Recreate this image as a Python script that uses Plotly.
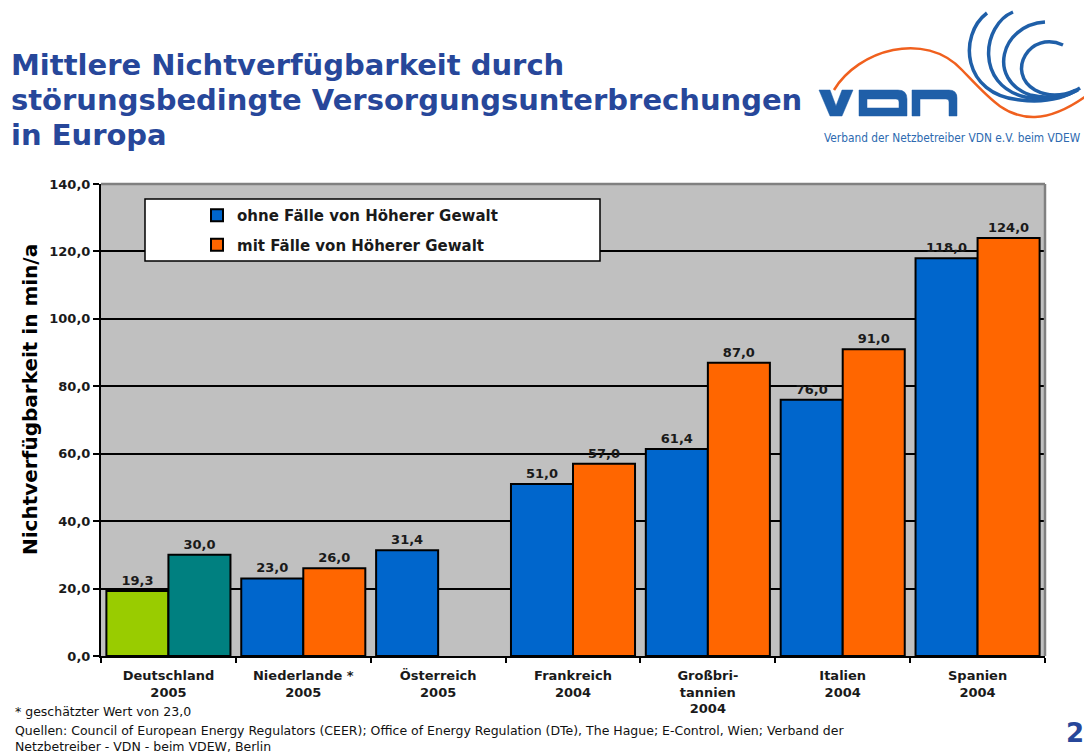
import plotly.graph_objects as go

# ---------------- data ----------------
categories = ["Deutschland<br>2005", "Niederlande *<br>2005", "Österreich<br>2005",
              "Frankreich<br>2004", "Großbri-<br>tannien<br>2004", "Italien<br>2004",
              "Spanien<br>2004"]
ohne_hg = [19.3, 23.0, 31.4, 51.0, 61.4, 76.0, 118.0]
mit_hg = [30.0, 26.0, None, 57.0, 87.0, 91.0, 124.0]
series_names = ["ohne Fälle von Höherer Gewalt", "mit Fälle von Höherer Gewalt"]
y_ticks = [0, 20, 40, 60, 80, 100, 120, 140]
special_category = "Deutschland<br>2005"   # drawn in its own colours

title_lines = ["Mittlere Nichtverfügbarkeit durch",
               "störungsbedingte Versorgungsunterbrechungen",
               "in Europa"]
y_title = "Nichtverfügbarkeit in min/a"
footnote = "* geschätzter Wert von 23,0"
sources = ("Quellen: Council of European Energy Regulators (CEER); Office of Energy Regulation (DTe), "
           "The Hague; E-Control, Wien; Verband der<br>Netzbetreiber - VDN - beim VDEW, Berlin")
logo_caption = "Verband der Netzbetreiber VDN e.V. beim VDEW"
page_no = "2"

# ---------------- styles ----------------
BLUE, ORANGE, GREEN, TEAL = "#0066CC", "#FF6600", "#99CC00", "#008080"
TITLE_BLUE = "#27479A"
LOGO_BLUE = "#1F5FA8"
LOGO_ORANGE = "#F0601E"
FONT = "DejaVu Sans"

W, H = 1084, 755
PL, PR, PT, PB = 101, 1045, 184, 656


def px(x):
    return (x - PL) / (PR - PL)


def py(y):
    return (PB - y) / (PB - PT)


def path(cmds):
    """cmds: list of (letter, [x1,y1,...]) in pixels, one segment each -> paper path"""
    out = []
    for c, pts in cmds:
        if c == "Z":
            out.append("Z")
            continue
        coords = [f"{px(pts[i]):.5f},{py(pts[i+1]):.5f}" for i in range(0, len(pts), 2)]
        out.append(c + " " + " ".join(coords))
    return " ".join(out)


def split(values, keep_special):
    return [v if ((c == special_category) == keep_special) else None
            for c, v in zip(categories, values)]


bar_line = dict(color="#000000", width=2)
txt_font = dict(family=FONT, size=13, color="#1a1a1a", weight="bold")

fig = go.Figure()
fig.add_trace(go.Bar(x=categories, y=split(ohne_hg, False), name=series_names[0],
                     marker=dict(color=BLUE, line=bar_line), offsetgroup="a",
                     texttemplate="%{y:.1f}", textposition="outside", textfont=txt_font,
                     cliponaxis=False, legendgroup="g1"))
fig.add_trace(go.Bar(x=categories, y=split(ohne_hg, True), showlegend=False,
                     marker=dict(color=GREEN, line=bar_line), offsetgroup="a",
                     texttemplate="%{y:.1f}", textposition="outside", textfont=txt_font,
                     cliponaxis=False))
fig.add_trace(go.Bar(x=categories, y=split(mit_hg, False), name=series_names[1],
                     marker=dict(color=ORANGE, line=bar_line), offsetgroup="b",
                     texttemplate="%{y:.1f}", textposition="outside", textfont=txt_font,
                     cliponaxis=False, legendgroup="g2"))
fig.add_trace(go.Bar(x=categories, y=split(mit_hg, True), showlegend=False,
                     marker=dict(color=TEAL, line=bar_line), offsetgroup="b",
                     texttemplate="%{y:.1f}", textposition="outside", textfont=txt_font,
                     cliponaxis=False))

shapes = [
    # legend box
    dict(type="rect", xref="paper", yref="paper", x0=px(145), x1=px(600), y0=py(199), y1=py(261),
         fillcolor="white", line=dict(color="#000000", width=1.5), layer="above"),
    # top/right frame in grey
    dict(type="line", xref="paper", yref="paper", x0=0, x1=1, y0=1, y1=1,
         line=dict(color="#808080", width=2.5), layer="above"),
    dict(type="line", xref="paper", yref="paper", x0=1, x1=1, y0=0, y1=1,
         line=dict(color="#808080", width=2.5), layer="above"),
]

# ----- logo -----
logo_paths = [
    # orange wave
    (path([("M", [834, 90]), ("C", [858, 50, 925, 30, 962, 70]),
           ("C", [988, 97, 1005, 118, 1035, 117]), ("C", [1055, 116, 1072, 106, 1086, 96])]),
     LOGO_ORANGE, 2.5, None),
    # blue arcs
    (path([("M", [987, 13]), ("C", [958, 35, 962, 95, 1020, 100]), ("C", [1045, 103, 1065, 98, 1080, 88])]),
     LOGO_BLUE, 3.5, None),
    (path([("M", [1013, 12]), ("C", [982, 25, 975, 85, 1025, 97]), ("C", [1048, 102, 1065, 97, 1078, 90])]),
     LOGO_BLUE, 3.5, None),
    (path([("M", [1045, 22]), ("C", [1000, 25, 987, 80, 1030, 95]), ("C", [1050, 100, 1065, 96, 1077, 90])]),
     LOGO_BLUE, 3.5, None),
    (path([("M", [1063, 45]), ("C", [1030, 30, 1005, 72, 1035, 90]), ("C", [1050, 98, 1065, 95, 1076, 90])]),
     LOGO_BLUE, 3.5, None),
    # V
    (path([("M", [819, 90]), ("L", [830, 90]), ("L", [836, 106]), ("L", [842, 90]), ("L", [853, 90]),
           ("L", [842, 116]), ("L", [830, 116]), ("Z", [])]),
     LOGO_BLUE, 0.5, LOGO_BLUE),
    # D
    (path([("M", [859, 90]), ("L", [898, 90]), ("Q", [907, 90, 907, 99]), ("L", [907, 116]), ("L", [859, 116]),
           ("Z", []),
           ("M", [867, 99]), ("L", [896, 99]), ("Q", [899, 99, 899, 102]), ("L", [899, 108]), ("L", [867, 108]),
           ("Z", [])]),
     LOGO_BLUE, 0.5, LOGO_BLUE),
    # N
    (path([("M", [912, 116]), ("L", [912, 90]), ("L", [949, 90]), ("Q", [957, 90, 957, 98]), ("L", [957, 116]),
           ("L", [949, 116]), ("L", [949, 102]), ("Q", [949, 99, 946, 99]), ("L", [920, 99]), ("L", [920, 116]),
           ("Z", [])]),
     LOGO_BLUE, 0.5, LOGO_BLUE),
]
for d, col, w, fill in logo_paths:
    s = dict(type="path", xref="paper", yref="paper", path=d, line=dict(color=col, width=w), layer="above")
    if fill:
        s["fillcolor"] = fill
        s["fillrule"] = "evenodd"
    shapes.append(s)

annotations = []
for i, line in enumerate(title_lines):
    annotations.append(dict(text=line, x=px(9), y=py(65 + 35 * i), xref="paper", yref="paper",
                            xanchor="left", yanchor="middle", showarrow=False,
                            font=dict(family=FONT, size=29, color=TITLE_BLUE, weight="bold")))
annotations += [
    dict(text=logo_caption, x=px(822), y=py(138), xref="paper", yref="paper", xanchor="left", yanchor="middle",
         showarrow=False, font=dict(family="DejaVu Sans Condensed", size=11.8, color="#2D6AB0")),
    dict(text=y_title, x=px(30), y=py(400), xref="paper", yref="paper", xanchor="center", yanchor="middle",
         textangle=-90, showarrow=False, font=dict(family=FONT, size=20, color="#000000", weight="bold")),
    dict(text=footnote, x=px(13), y=py(711), xref="paper", yref="paper", xanchor="left", yanchor="middle",
         showarrow=False, font=dict(family=FONT, size=12.5, color="#111111")),
    dict(text=sources, x=px(13), y=py(738), xref="paper", yref="paper", xanchor="left", yanchor="middle",
         align="left", showarrow=False, font=dict(family=FONT, size=12.5, color="#111111")),
    dict(text=page_no, x=px(1064), y=py(733), xref="paper", yref="paper", xanchor="left", yanchor="middle",
         showarrow=False, font=dict(family=FONT, size=26, color=TITLE_BLUE, weight="bold")),
]

fig.update_layout(
    width=W, height=H,
    margin=dict(l=PL, r=W - PR, t=PT, b=H - PB, pad=0),
    paper_bgcolor="white", plot_bgcolor="#C0C0C0",
    barmode="group", bargap=0.08, bargroupgap=0,
    separators=",.",
    font=dict(family=FONT, color="#1a1a1a"),
    showlegend=True,
    legend=dict(x=px(197), y=py(199), xanchor="left", yanchor="top", bgcolor="rgba(0,0,0,0)",
                borderwidth=0, traceorder="grouped", tracegroupgap=7,
                font=dict(family=FONT, size=15, color="#1a1a1a", weight="bold")),
    shapes=shapes, annotations=annotations,
    xaxis=dict(showline=True, linecolor="#000000", linewidth=2, ticks="outside", ticklen=5,
               tickcolor="#000000", tickwidth=1.5, tickson="boundaries", showgrid=False,
               ticklabelstandoff=6,
               tickfont=dict(family=FONT, size=13, color="#1a1a1a", weight="bold")),
    yaxis=dict(range=[0, 140], tickvals=y_ticks, tickformat=".1f", showline=True, linecolor="#000000",
               linewidth=2, ticks="outside", ticklen=6, tickcolor="#000000", tickwidth=1.5,
               showgrid=True, gridcolor="#000000", gridwidth=1.5, zeroline=False,
               tickfont=dict(family=FONT, size=13, color="#1a1a1a", weight="bold")),
)

fig.write_html("out.html", config={"displayModeBar": False},
               post_script="document.body.style.margin='0px';document.body.style.overflow='hidden';")
